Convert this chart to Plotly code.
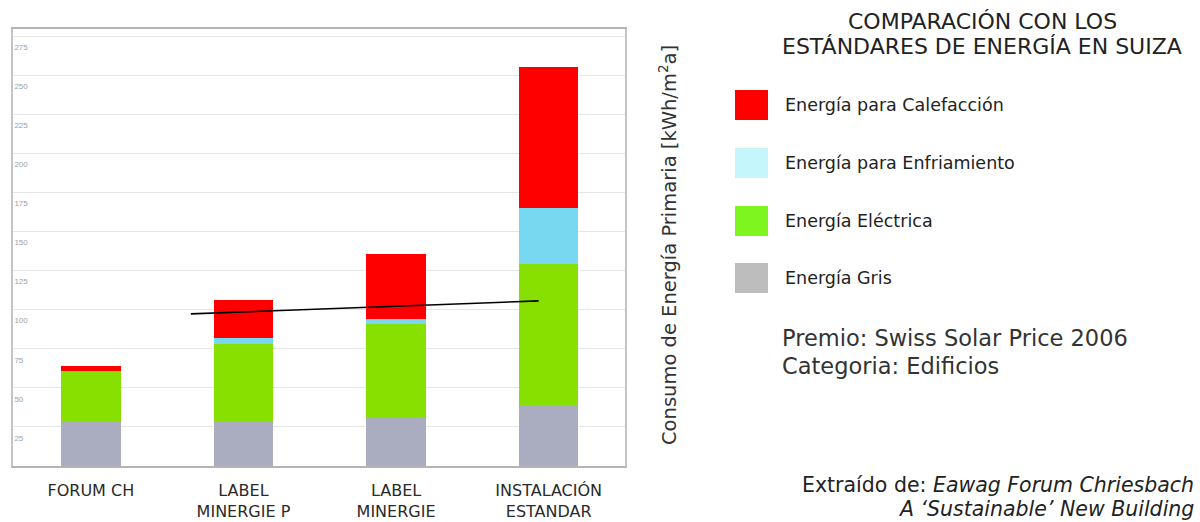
import plotly.graph_objects as go

categories = ["FORUM CH", "LABEL<br>MINERGIE P", "LABEL<br>MINERGIE", "INSTALACIÓN<br>ESTANDAR"]
cat_pos = [0, 1, 2, 3]
gris = [28, 28, 31, 39]
electrica = [33, 50, 60, 90]
enfriamiento = [0, 4, 3, 36]
calefaccion = [3, 24, 41.5, 90]
y_ticks = [25, 50, 75, 100, 125, 150, 175, 200, 225, 250, 275]
line_x = [0.655, 2.934]
line_y = [97.3, 105.6]

series = [
    ("Energía Gris", gris, "#a9adbf"),
    ("Energía Eléctrica", electrica, "#88e000"),
    ("Energía para Enfriamiento", enfriamiento, "#78d8f0"),
    ("Energía para Calefacción", calefaccion, "#ff0000"),
]

FONT = "DejaVu Sans, Arial, sans-serif"
TICKFONT = "Arial, Liberation Sans, sans-serif"
fig = go.Figure()
for name, vals, col in series:
    fig.add_trace(go.Bar(x=cat_pos, y=vals, name=name, marker=dict(color=col, line=dict(width=0)),
                         width=0.39, showlegend=False))

fig.add_trace(go.Scatter(x=line_x, y=line_y, mode="lines", line=dict(color="black", width=1.6),
                         showlegend=False, hoverinfo="skip"))

T, B = 29, 56
fig.update_layout(
    barmode="stack",
    width=1200, height=522,
    margin=dict(l=13, r=575, t=T, b=B),
    paper_bgcolor="white", plot_bgcolor="white",
    font=dict(family=FONT, color="#333"),
    xaxis=dict(range=[-0.51, 3.5], tickvals=cat_pos, ticktext=categories, showgrid=False,
               zeroline=False, showline=True, linecolor="#b4b4b4", linewidth=2, mirror=True,
               ticks="", automargin=False,
               tickfont=dict(size=16, color="#2a2a2a", family=FONT), ticklabelstandoff=9),
    yaxis=dict(range=[0, 279.5], tickvals=y_ticks, showgrid=True, gridcolor="#e6e6e6", gridwidth=1,
               zeroline=False, showline=True, linecolor="#c4c4c4", linewidth=2, mirror=True,
               ticks="", ticklabelposition="inside", ticklabelshift=11, automargin=False,
               ticklabeloverflow="allow",
               tickfont=dict(size=8, color="#a0a0a0", family=TICKFONT)),
)

PH = 522 - T - B
PW = 612


def px(x):
    return (x - 13) / PW


def py(y):
    return (522 - B - y) / PH


def text_at(x, y, text, size, anchor="center", color="#222", angle=0):
    fig.add_annotation(xref="paper", yref="paper", x=px(x), y=py(y), xanchor=anchor, yanchor="middle",
                       text=text, textangle=angle, showarrow=False,
                       font=dict(size=size, color=color, family=FONT))


# Y-axis title on the right side
text_at(668, 245, "Consumo de Energía Primaria [kWh/m<sup>2</sup>a]", 19.5, color="#333", angle=-90)

# Title
title_lines = ["COMPARACIÓN CON LOS", "ESTÁNDARES DE ENERGÍA EN SUIZA"]
text_at(982, 22, title_lines[0], 22)
text_at(982, 47, title_lines[1], 22)

# Custom legend
legend_rows = [("Energía para Calefacción", "#ff0000", 105),
               ("Energía para Enfriamiento", "#c4f6fb", 163),
               ("Energía Eléctrica", "#7ef51e", 221),
               ("Energía Gris", "#bdbdbd", 278)]
for text, col, yc in legend_rows:
    fig.add_shape(type="rect", xref="paper", yref="paper",
                  x0=px(735), x1=px(768), y0=py(yc + 15), y1=py(yc - 15),
                  fillcolor=col, line=dict(width=0))
    text_at(783, yc, text, 17.5, anchor="left")

text_at(780, 338, "Premio: Swiss Solar Price 2006", 22.5, anchor="left", color="#333")
text_at(780, 366, "Categoria: Edificios", 22.5, anchor="left", color="#333")

text_at(1196, 485, "Extraído de: <i>Eawag Forum Chriesbach</i>", 20.5, anchor="right")
text_at(1196, 509, "<i>A ‘Sustainable’ New Building</i>", 20.5, anchor="right")

fig.write_html("out.html")
